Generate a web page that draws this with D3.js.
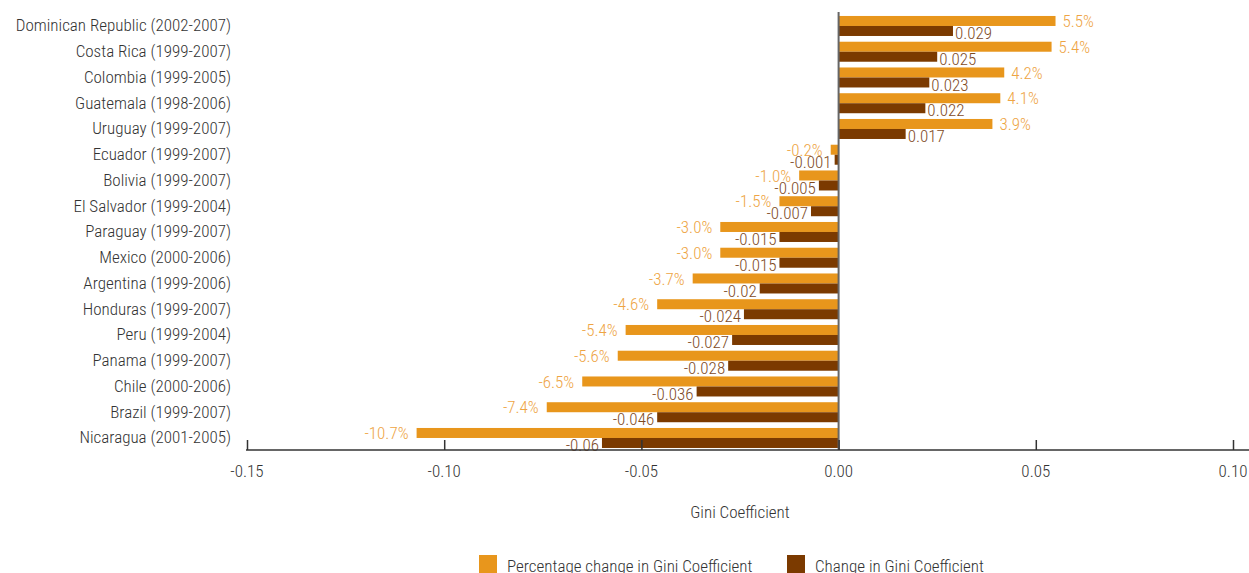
<!DOCTYPE html>
<html>
<head>
<meta charset="utf-8">
<script src="https://cdn.jsdelivr.net/npm/d3@7"></script>
<style>
  body { margin: 0; background: #fff; }
  svg text { font-family: "Roboto Condensed", "Liberation Sans Narrow", "DejaVu Sans Condensed", Roboto, sans-serif; font-stretch: condensed; font-weight: 300; }
</style>
</head>
<body>
<svg class="chart"></svg>
<script>
const countries = [
  'Dominican Republic (2002-2007)', 'Costa Rica (1999-2007)', 'Colombia (1999-2005)',
  'Guatemala (1998-2006)', 'Uruguay (1999-2007)', 'Ecuador (1999-2007)',
  'Bolivia (1999-2007)', 'El Salvador (1999-2004)', 'Paraguay (1999-2007)',
  'Mexico (2000-2006)', 'Argentina (1999-2006)', 'Honduras (1999-2007)',
  'Peru (1999-2004)', 'Panama (1999-2007)', 'Chile (2000-2006)',
  'Brazil (1999-2007)', 'Nicaragua (2001-2005)'
];
// percentage change in Gini coefficient (%)
const pctChange = [5.5, 5.4, 4.2, 4.1, 3.9, -0.2, -1.0, -1.5, -3.0, -3.0, -3.7, -4.6, -5.4, -5.6, -6.5, -7.4, -10.7];
// absolute change in Gini coefficient
const giniChange = [0.029, 0.025, 0.023, 0.022, 0.017, -0.001, -0.005, -0.007, -0.015, -0.015, -0.02, -0.024, -0.027, -0.028, -0.036, -0.046, -0.06];
const xTicks = [-0.15, -0.10, -0.05, 0.00, 0.05, 0.10];

const seriesNames = ['Percentage change in Gini Coefficient', 'Change in Gini Coefficient'];
const barColors = ['#E8961C', '#7B3A00'];
const labelColors = ['#EEA443', '#7E4A1E'];

const width = 1249;
const height = 573;

// plain hyphen for negatives, like the original
const locale = d3.formatLocale({ decimal: '.', thousands: ',', grouping: [3], currency: ['', ''], minus: '-' });
const fmt1 = locale.format('.1f');
const fmt2 = locale.format('.2f');

const svg = d3.select('.chart')
  .attr('width', width)
  .attr('height', height);

const x = d3.scaleLinear()
  .domain([-0.15, 0.10])
  .range([247, 1233]);

const y = d3.scaleBand()
  .domain(countries)
  .range([13.1, 450.85])
  .paddingInner(0.223)
  .paddingOuter(0.1115);

const sub = d3.scaleBand()
  .domain([0, 1])
  .range([0, y.bandwidth()]);

const rows = countries.map((c, i) => ({
  country: c,
  values: [
    { k: 0, v: pctChange[i] / 100, label: fmt1(pctChange[i]) + '%' },
    { k: 1, v: giniChange[i], label: String(giniChange[i]) }
  ]
}));

const g = svg.append('g');

const row = g.selectAll('g.row')
  .data(rows)
  .enter()
  .append('g')
  .attr('class', 'row')
  .attr('transform', d => `translate(0, ${y(d.country)})`);

row.selectAll('rect')
  .data(d => d.values)
  .enter()
  .append('rect')
  .attr('x', d => x(Math.min(0, d.v)))
  .attr('y', d => sub(d.k))
  .attr('width', d => Math.abs(x(d.v) - x(0)))
  .attr('height', sub.bandwidth())
  .attr('fill', d => barColors[d.k]);

row.selectAll('text.val')
  .data(d => d.values)
  .enter()
  .append('text')
  .attr('class', 'val')
  .attr('x', d => {
    const pad = d.k === 0 ? 7 : 2;
    return d.v >= 0 ? x(d.v) + pad : x(d.v) - (d.k === 0 ? 8 : 3);
  })
  .attr('y', d => sub(d.k) + sub.bandwidth() / 2 + (d.k === 0 ? 0 : 2))
  .attr('dy', '0.36em')
  .attr('text-anchor', d => d.v >= 0 ? 'start' : 'end')
  .attr('font-size', '17px')
  .attr('fill', d => labelColors[d.k])
  .text(d => d.label);

// category labels
g.selectAll('text.cat')
  .data(countries)
  .enter()
  .append('text')
  .attr('class', 'cat')
  .attr('x', 231)
  .attr('y', d => y(d) + y.bandwidth() / 2)
  .attr('dy', '0.32em')
  .attr('text-anchor', 'end')
  .attr('font-size', '17px')
  .attr('fill', '#333')
  .text(d => d);

// zero line
g.append('line')
  .attr('x1', x(0)).attr('x2', x(0))
  .attr('y1', 12).attr('y2', 450)
  .attr('stroke', '#666')
  .attr('stroke-width', 2);

// x axis
const axis = svg.append('g')
  .attr('transform', 'translate(0, 450)')
  .call(d3.axisTop(x).tickValues(xTicks).tickSize(10).tickFormat(() => ''));
axis.select('.domain').remove();
axis.selectAll('.tick line').attr('stroke', '#333').attr('stroke-width', 1.5);
axis.append('line')
  .attr('x1', 246).attr('x2', width)
  .attr('stroke', '#333')
  .attr('stroke-width', 1.5);

svg.append('g')
  .selectAll('text')
  .data(xTicks)
  .enter()
  .append('text')
  .attr('x', d => x(d))
  .attr('y', 471)
  .attr('dy', '0.35em')
  .attr('text-anchor', 'middle')
  .attr('font-size', '17px')
  .attr('fill', '#333')
  .text(d => fmt2(d));

svg.append('text')
  .attr('x', 740)
  .attr('y', 512)
  .attr('dy', '0.35em')
  .attr('text-anchor', 'middle')
  .attr('font-size', '17px')
  .attr('fill', '#333')
  .text('Gini Coefficient');

// legend
const legendX = [479, 787];
const legend = svg.append('g')
  .selectAll('g')
  .data(seriesNames)
  .enter()
  .append('g')
  .attr('transform', (d, i) => `translate(${legendX[i]}, 555)`);

legend.append('rect')
  .attr('width', 18)
  .attr('height', 18)
  .attr('fill', (d, i) => barColors[i]);

legend.append('text')
  .attr('x', 28)
  .attr('y', 11)
  .attr('dy', '0.35em')
  .attr('font-size', '17px')
  .attr('fill', '#333')
  .text(d => d);
</script>
</body>
</html>
